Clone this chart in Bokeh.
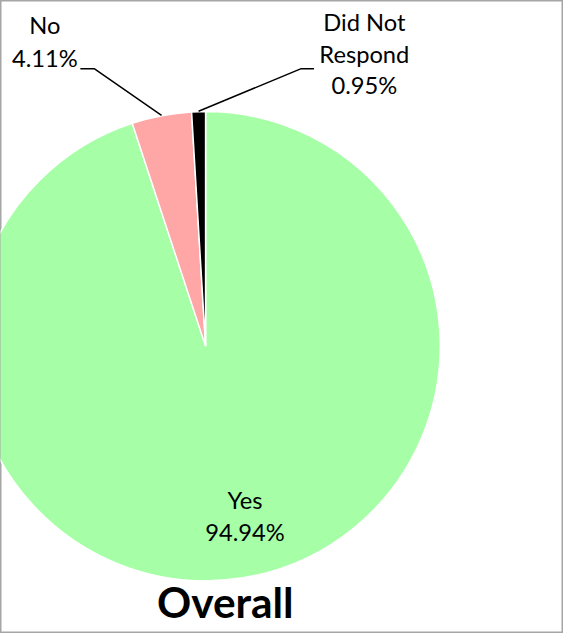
import math
import numpy as np
from bokeh.plotting import figure
from bokeh.models import Range1d, ColumnDataSource
from bokeh.core.properties import value
from bokeh.embed import file_html
from bokeh.resources import INLINE

# ---- data ----
categories = ["Yes", "No", "Did Not Respond"]
percents = [94.94, 4.11, 0.95]
colors = ["#A6FFA6", "#FFA6A6", "#000000"]
title = "Overall"

# ---- layout (reference pixel coords, y downward; data y = -pixel y) ----
W, H = 563, 633
RW, RH = 571, 641
cx, cy, R = 208, 350, 238
s = W / RW
dy = 10   # baseline correction for label text
dyt = 14  # baseline correction for title

p = figure(width=W, height=H, output_backend="svg", toolbar_location=None,
           x_range=Range1d(0, RW), y_range=Range1d(-RH, 0),
           min_border=0, background_fill_color="white", border_fill_color="white")
p.axis.visible = False
p.grid.visible = False
p.outline_line_color = "#A6A6A6"
p.outline_line_width = 2

fr = np.array(percents) / sum(percents)
ends = np.pi / 2 - 2 * np.pi * np.cumsum(fr)
starts = np.concatenate([[np.pi / 2], ends[:-1]])
src = ColumnDataSource(dict(start=starts, end=ends, color=colors, cat=categories))
p.wedge(x=cx, y=-cy, radius=R, start_angle="start", end_angle="end",
        direction="clock", fill_color="color", line_color="white", line_width=1.5,
        source=src)

mids = (starts + ends) / 2
font = value("Lato")
fs = f"{24 * s:.1f}px"

# Yes label inside
p.text(x=[248, 248], y=[-516 + dy, -548 + dy], text=["Yes", f"{percents[0]:.2f}%"],
       text_font=font, text_font_size=fs, text_align="center",
       text_baseline="alphabetic", text_color="black")

# No label
p.text(x=[45, 45], y=[-35 + dy, -68 + dy], text=["No", f"{percents[1]:.2f}%"],
       text_font=font, text_font_size=fs, text_align="center",
       text_baseline="alphabetic", text_color="black")
ex = cx + R * math.cos(mids[1]); ey = cy - R * math.sin(mids[1])
p.line(x=[81, 95, ex], y=[-69, -69, -ey], line_color="black", line_width=1.5)

# Did Not Respond label
p.text(x=[369, 369, 369], y=[-32 + dy, -64 + dy, -96 + dy],
       text=["Did Not", "Respond", f"{percents[2]:.2f}%"],
       text_font=font, text_font_size=fs, text_align="center",
       text_baseline="alphabetic", text_color="black")
ex = cx + R * math.cos(mids[2]); ey = cy - R * math.sin(mids[2])
p.line(x=[318, 305, ex], y=[-69, -69, -ey], line_color="black", line_width=1.5)

# title
p.text(x=[228], y=[-623 + dyt], text=[title], text_font=font,
       text_font_size=f"{43 * s:.1f}px",
       text_font_style="bold", text_align="center", text_baseline="alphabetic",
       text_color="black")

open("out.html", "w").write(file_html(p, INLINE))
